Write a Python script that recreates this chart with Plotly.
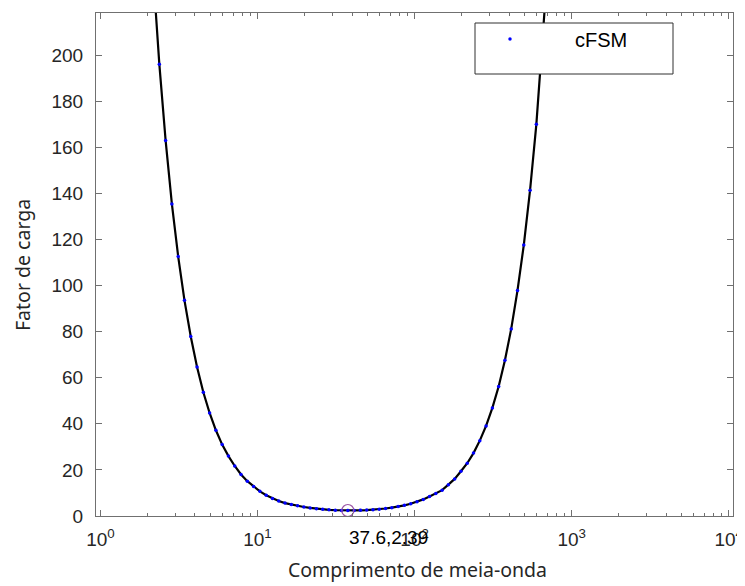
import plotly.graph_objects as go

# Half-wave length (x) and load factor (y)
half_wavelength = [1.973, 2.164, 2.372, 2.601, 2.852, 3.128, 3.429, 3.760, 4.123, 4.521,
                   4.957, 5.435, 5.959, 6.534, 7.165, 7.856, 8.614, 9.445, 10.36, 11.36,
                   12.45, 13.65, 14.97, 16.41, 18.00, 19.73, 21.64, 23.72, 26.01, 28.52,
                   31.28, 34.29, 37.6, 41.23, 45.21, 49.57, 54.35, 59.59, 65.34, 71.65,
                   78.56, 86.14, 94.45, 103.6, 113.6, 124.5, 136.5, 149.7, 164.1, 180.0,
                   197.3, 216.4, 237.2, 260.1, 285.2, 312.8, 342.9, 376.0, 412.3, 452.1,
                   495.7, 543.5, 595.9, 653.4, 716.5]
load_factor = [284.0, 236.0, 196.1, 163.0, 135.4, 112.6, 93.6, 77.9, 64.7, 53.7,
               44.7, 37.2, 31.0, 26.0, 21.7, 18.0, 15.1, 12.8, 10.7, 9.0,
               7.6, 6.5, 5.6, 4.95, 4.40, 3.90, 3.50, 3.15, 2.88, 2.67,
               2.52, 2.43, 2.39, 2.40, 2.46, 2.57, 2.73, 2.95, 3.24, 3.61,
               4.07, 4.64, 5.34, 6.18, 7.20, 8.44, 9.8, 11.2, 13.6, 16.1,
               19.4, 22.9, 27.3, 32.7, 39.1, 46.9, 56.2, 67.6, 81.2, 97.9,
               117.6, 141.4, 170.0, 204.5, 245.5]

min_x = [37.6]
min_y = [2.39]
min_label = "37.6,2.39"

x_tickvals = [1, 10, 100, 1000, 10000]
x_ticktext = ["10<sup>0</sup>", "10<sup>1</sup>", "10<sup>2</sup>", "10<sup>3</sup>", "10<sup>4</sup>"]
x_minor = [m * d for d in [1, 10, 100, 1000] for m in range(2, 10)]
y_tickvals = [0, 20, 40, 60, 80, 100, 120, 140, 160, 180, 200]

# the page body adds an 8px offset; figure sized to fill the rest of the window
OFF = 8
W, H = 745 - OFF, 586 - OFF
# plot area in window pixels: x 96..733, y 13..516
L, R, T, B = 96 - OFF, 745 - 733, 13 - OFF, 586 - 516
pw, ph = W - L - R, H - T - B

def px(x):
    return (x - OFF - L) / pw

def py(y):
    return (H - B - (y - OFF)) / ph

fig = go.Figure()
fig.add_trace(go.Scatter(x=half_wavelength, y=load_factor, mode="lines",
                         line=dict(color="black", width=2.2), showlegend=False,
                         hoverinfo="skip"))
fig.add_trace(go.Scatter(x=half_wavelength, y=load_factor, mode="markers", name="cFSM",
                         marker=dict(color="#0000ff", size=3.5, line=dict(width=0))))
fig.add_trace(go.Scatter(x=min_x, y=min_y, mode="markers", showlegend=False,
                         marker=dict(symbol="circle-open", size=12,
                                     color="#9b55a5", line=dict(width=1.2))))

tickfont = dict(family="Liberation Sans, Arial", size=19, color="#262626")
axcol = "#707070"

fig.update_xaxes(type="log", range=[-0.028, 4.027], tickmode="array",
                 tickvals=x_tickvals, ticktext=x_ticktext, ticks="inside", ticklen=6,
                 tickcolor=axcol, showline=True, linecolor=axcol, linewidth=1,
                 mirror="ticks", showgrid=False, zeroline=False, tickfont=tickfont,
                 ticklabelstandoff=6, automargin=False,
                 minor=dict(tickmode="array", tickvals=x_minor, ticks="inside",
                            ticklen=3, tickcolor=axcol, showgrid=False))
fig.update_yaxes(range=[0, 218.3], tickmode="array", tickvals=y_tickvals,
                 ticks="inside", ticklen=6, tickcolor=axcol, showline=True,
                 linecolor=axcol, linewidth=1, mirror="ticks", showgrid=False,
                 zeroline=False, tickfont=tickfont, ticklabelstandoff=8,
                 automargin=False)

# legend box
fig.add_shape(type="rect", xref="paper", yref="paper",
              x0=px(475), x1=px(673), y0=py(74), y1=py(23),
              fillcolor="white", line=dict(color="#303030", width=1), layer="above")

fig.update_layout(
    width=W, height=H, margin=dict(l=L, r=R, t=T, b=B, autoexpand=False),
    plot_bgcolor="white", paper_bgcolor="white",
    legend=dict(x=px(445), y=py(39), xanchor="left", yanchor="middle",
                bgcolor="rgba(0,0,0,0)", borderwidth=0, itemwidth=120,
                font=dict(family="Liberation Sans, Arial", size=20, color="#000000")),
    annotations=[
        dict(x=px(417), y=py(569), xref="paper", yref="paper", showarrow=False,
             text="Comprimento de meia-onda", xanchor="center", yanchor="middle",
             font=dict(family="Noto Sans", size=19.5, color="#262626")),
        dict(x=px(22), y=py(265), xref="paper", yref="paper", showarrow=False,
             text="Fator de carga", textangle=-90, xanchor="center", yanchor="middle",
             font=dict(family="Noto Sans", size=19.5, color="#262626")),
        dict(x=1.5752, y=min_y[0], xref="x", yref="y", showarrow=False,
             text=min_label, xanchor="left", yanchor="top", yshift=-15, xshift=-1,
             font=dict(family="Liberation Sans, Arial", size=19, color="#000000")),
    ],
)

fig.write_html("out.html")
